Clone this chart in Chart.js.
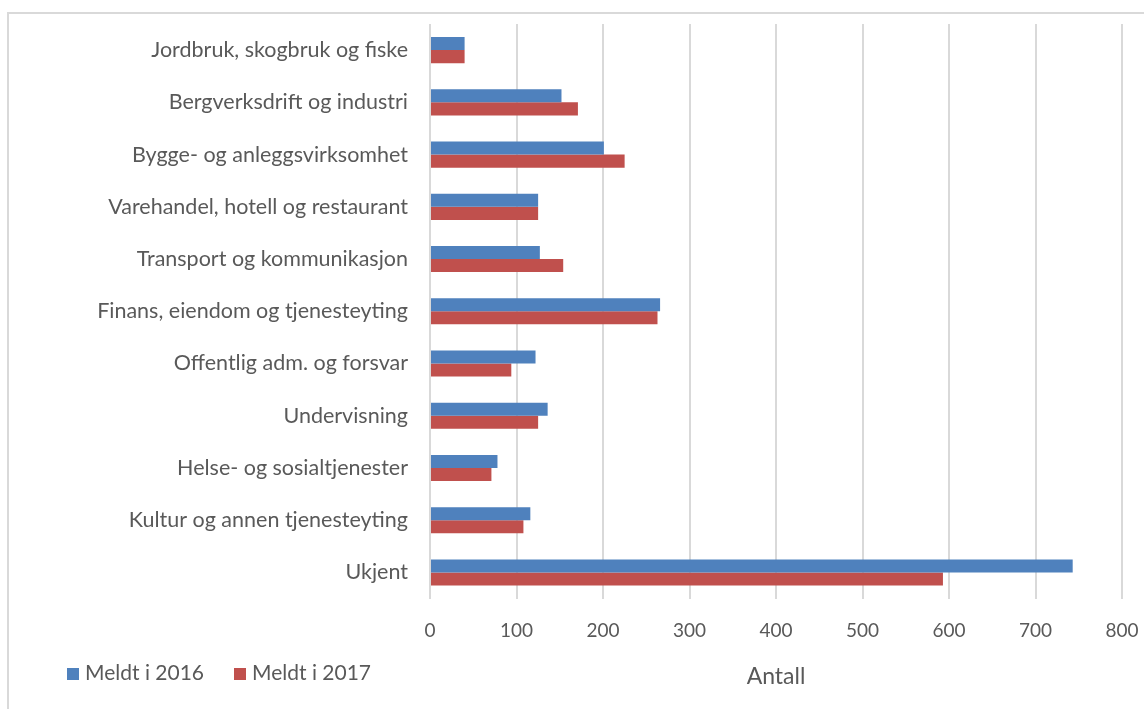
<!DOCTYPE html>
<html>
<head>
<meta charset="utf-8">
<script src="https://cdn.jsdelivr.net/npm/chart.js@4"></script>
<style>
  body { margin: 0; background: #fff; }
  #wrap { position: relative; width: 1144px; height: 709px; overflow: hidden; }
  #frame { position: absolute; left: 7px; top: 12px; width: 1200px; height: 760px;
           border: 2px solid #d9d9d9; box-sizing: border-box; }
  #c { position: absolute; left: 0; top: 0; }
  #legend { position: absolute; left: 67px; top: 659px; font: 21px Lato, sans-serif; color: #595959; white-space: nowrap; }
  #legend span.item { display: inline-block; margin-right: 30px; }
  #legend span.box { display: inline-block; width: 12px; height: 12px; margin-right: 6px; vertical-align: 0px; }
</style>
</head>
<body>
<div id="wrap">
  <div id="frame"></div>
  <canvas id="c" width="1144" height="709"></canvas>
  <div id="legend"></div>
</div>
<script>
const categories = [
    'Jordbruk, skogbruk og fiske',
    'Bergverksdrift og industri',
    'Bygge- og anleggsvirksomhet',
    'Varehandel, hotell og restaurant',
    'Transport og kommunikasjon',
    'Finans, eiendom og tjenesteyting',
    'Offentlig adm. og forsvar',
    'Undervisning',
    'Helse- og sosialtjenester',
    'Kultur og annen tjenesteyting',
    'Ukjent'
];
const meldt2016 = [40, 152, 201, 125, 127, 266, 122, 136, 78, 116, 743];
const meldt2017 = [40, 171, 225, 125, 154, 263, 94, 125, 71, 108, 593];
const seriesLabels = ['Meldt i 2016', 'Meldt i 2017'];
const seriesColors = ['#4f81bd', '#c0504d'];
const xTitle = 'Antall';

const textColor = '#595959';
const fontFamily = 'Lato, sans-serif';

const ctx = document.getElementById('c').getContext('2d');
const chart = new Chart(ctx, {
    type: 'bar',
    data: {
        labels: categories,
        datasets: [
            { label: seriesLabels[0], data: meldt2016, backgroundColor: seriesColors[0] },
            { label: seriesLabels[1], data: meldt2017, backgroundColor: seriesColors[1] }
        ]
    },
    options: {
        indexAxis: 'y',
        responsive: false,
        animation: false,
        layout: { padding: { top: 24, right: 22, left: 0, bottom: 12 } },
        datasets: { bar: { categoryPercentage: 0.5, barPercentage: 1.0 } },
        scales: {
            x: {
                min: 0, max: 800,
                ticks: { stepSize: 100, color: textColor, font: { family: fontFamily, size: 19 }, padding: 21 },
                grid: { color: '#d9d9d9', lineWidth: 2, drawTicks: false },
                border: { display: false },
                title: { display: true, text: xTitle, color: textColor, font: { family: fontFamily, size: 23 }, padding: { top: -1, bottom: 7 } },
                // keep the plot edges fixed, no extra room for the end labels
                afterFit: (scale) => { scale.paddingLeft = 0; scale.paddingRight = 0; }
            },
            y: {
                ticks: { color: textColor, font: { family: fontFamily, size: 21.5 }, padding: 22 },
                grid: { display: false, drawTicks: false },
                border: { display: false },
                afterFit: (scale) => { scale.width = 430; scale.paddingTop = 0; scale.paddingBottom = 0; }
            }
        },
        plugins: {
            legend: { display: false },
            tooltip: { enabled: false }
        }
    }
});

// legend row at the bottom left
const legendEl = document.getElementById('legend');
chart.data.datasets.forEach(ds => {
    const item = document.createElement('span');
    item.className = 'item';
    const box = document.createElement('span');
    box.className = 'box';
    box.style.background = ds.backgroundColor;
    item.appendChild(box);
    item.appendChild(document.createTextNode(ds.label));
    legendEl.appendChild(item);
});
</script>
</body>
</html>
